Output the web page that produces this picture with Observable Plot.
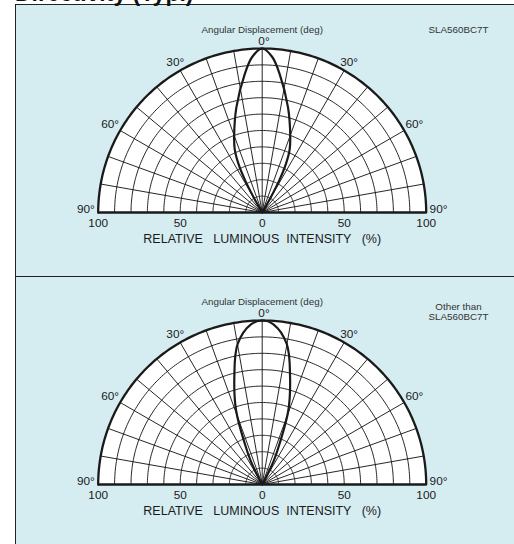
<!DOCTYPE html>
<html><head><meta charset="utf-8">
<script src="https://cdn.jsdelivr.net/npm/d3@7"></script>
<script src="https://cdn.jsdelivr.net/npm/@observablehq/plot@0.6"></script>
<style>
html,body{margin:0;padding:0}
body{width:514px;height:544px;overflow:hidden;background:#fff;position:relative;font-family:"Liberation Sans",Arial,sans-serif}
#title{position:absolute;left:15px;top:-19px;font-weight:bold;font-size:23px;white-space:nowrap;color:#111;z-index:3;line-height:24px}
.bg{position:absolute;left:15px;width:520px;background:#d5edf1;border-top:1.2px solid #222;border-left:1.2px solid #222;box-sizing:border-box}
.chart{position:absolute;left:0;width:514px;z-index:2}
.chart svg text{white-space:pre}
</style></head>
<body>
<div id="title">Directivity (Typ.)</div>
<div class="bg" style="top:4px;height:273px"></div>
<div class="bg" style="top:276px;height:268px"></div>
<div class="chart" id="p1" style="top:4px"></div>
<div class="chart" id="p2" style="top:276px"></div>
<script>
// ---- data ----
const ringValues = [10, 20, 30, 40, 50, 60, 70, 80, 90];
const spokeAngles = [-80, -70, -60, -50, -40, -30, -20, -10, 0, 10, 20, 30, 40, 50, 60, 70, 80];
const tickValues = [-100, -50, 0, 50, 100];
const angleLabels = [-90, -60, -30, 0, 30, 60, 90];
const axisTitle = "RELATIVE   LUMINOUS  INTENSITY   (%)";
const headerTitle = "Angular Displacement (deg)";

// panel 1 : SLA560BC7T  (angle deg, relative intensity %)
const p1Angles    = [0, 3.7, 7.2, 13.8, 20, 23.5, 26, 28, 29.5, 30];
const p1Intensity = [100, 95, 85, 66, 50, 42, 33, 22, 10, 0];
const p1Label = "SLA560BC7T";

// panel 2 : Other than SLA560BC7T
const p2Angles    = [0, 3.9, 9.9, 14.7, 19.4, 23.1, 26, 28, 29];
const p2Intensity = [100, 98, 87, 67, 48, 27, 16, 6, 0];
const p2Label = "Other than\nSLA560BC7T";

// ---- helpers ----
const rad = d => d * Math.PI / 180;
const px = (r, a) => r * Math.sin(rad(a));
const py = (r, a) => r * Math.cos(rad(a));
const arcAngles = d3.range(-90, 90.5, 1);

function lobe(angles, vals) {
  const pts = [];
  for (let i = angles.length - 1; i > 0; i--) pts.push({a: -angles[i], r: vals[i]});
  for (let i = 0; i < angles.length; i++) pts.push({a: angles[i], r: vals[i]});
  return pts;
}

const ink = "#1a1a1a";
const font = "Liberation Sans, Arial, Helvetica, sans-serif";
const cx = 261.7, R = 164, base = 208;

function panel(angles, vals, label) {
  const ringPts = ringValues.flatMap(r => arcAngles.map(a => ({r, a})));
  return Plot.plot({
    width: 514, height: 272, margin: 0,
    x: {domain: [-100, 100], range: [cx - R, cx + R], axis: null},
    y: {domain: [0, 100], range: [base, base - R], axis: null},
    style: {background: "transparent", fontFamily: font, color: ink, overflow: "visible"},
    marks: [
      Plot.line(arcAngles, {x: a => px(100, a), y: a => py(100, a), fill: "white", stroke: "none"}),
      Plot.line(ringPts, {x: d => px(d.r, d.a), y: d => py(d.r, d.a), z: "r", stroke: ink, strokeWidth: 0.95}),
      Plot.link(spokeAngles, {x1: () => 0, y1: () => 0, x2: a => px(100, a), y2: a => py(100, a), stroke: ink, strokeWidth: 0.95}),
      Plot.line(arcAngles, {x: a => px(100, a), y: a => py(100, a), stroke: ink, strokeWidth: 2.3}),
      Plot.ruleY([0], {x1: () => -100, x2: () => 100, stroke: ink, strokeWidth: 2.4}),
      Plot.line(lobe(angles, vals), {x: d => px(d.r, d.a), y: d => py(d.r, d.a), stroke: ink, strokeWidth: 2.2, curve: "catmull-rom"}),
      Plot.text(tickValues, {x: d => d, y: () => 0, text: d => String(Math.abs(d)), dy: 10.5, fontSize: 11.8, fill: ink}),
      Plot.text([axisTitle], {x: () => 0, y: () => 0, text: d => d, dy: 26, fontSize: 12.5, fill: ink}),
      Plot.text(angleLabels, {
        x: a => px(104.5 + 3 * Math.abs(Math.sin(rad(a))), a) + (a === 0 ? 1.1 : 0),
        y: a => py(104.5 + 3 * Math.abs(Math.sin(rad(a))), a) + (Math.abs(a) === 90 ? 2.1 : 0),
        text: a => Math.abs(a) + "°", fontSize: 11.8, fill: ink
      }),
      Plot.text([headerTitle], {frameAnchor: "top", x: () => 0, text: d => d, dy: 21.5, fontSize: 9.8, fill: "#333"}),
      Plot.text([label], {frameAnchor: "top-right", text: d => d, textAnchor: "middle", dx: -56, dy: label.includes("\n") ? 26 : 21.5, fontSize: 9.8, lineHeight: 1.05, fill: "#333"})
    ]
  });
}

document.getElementById("p1").append(panel(p1Angles, p1Intensity, p1Label));
document.getElementById("p2").append(panel(p2Angles, p2Intensity, p2Label));
</script>
</body></html>
